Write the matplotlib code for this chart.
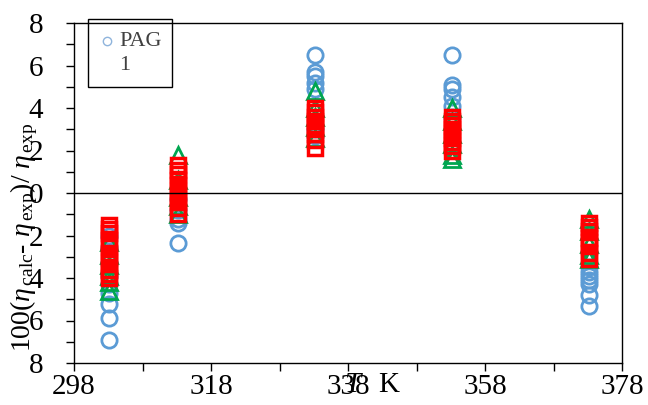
# -*- coding: utf-8 -*-

import numpy as np
import matplotlib
matplotlib.use('Agg')
import matplotlib.pyplot as plt
from matplotlib.patches import Rectangle
from matplotlib.lines import Line2D
from matplotlib.ticker import FixedLocator, MultipleLocator, FuncFormatter

plt.rcParams['font.family'] = ['Liberation Serif', 'DejaVu Serif']
plt.rcParams['mathtext.fontset'] = 'custom'
plt.rcParams['mathtext.rm'] = 'Liberation Serif'
plt.rcParams['mathtext.it'] = 'Liberation Serif:italic'

# temperatures (K)
temps = [303.15, 313.15, 333.15, 353.15, 373.15]
x_ticks = [298, 318, 338, 358, 378]
x_minor = [308, 328, 348, 368]

# deviations 100(eta_calc-eta_exp)/eta_exp for each temperature
blue_dev = [
	[-2.0, -2.6, -3.3, -3.9, -4.3, -4.7, -5.2, -5.9, -6.9],
	[-0.3, -0.8, -1.2, -1.4, -2.35],
	[6.5, 5.7, 5.5, 5.2, 4.9, 3.0, 2.7],
	[6.5, 5.1, 4.9, 4.5, 4.1, 3.6],
	[-3.5, -3.7, -3.9, -4.1, -4.3, -4.8, -5.3],
]
green_dev = [
	[-2.3, -2.9, -3.4, -3.9, -4.2, -4.6],
	[1.8, 0.6, -0.2, -0.6, -1.0],
	[4.8, 4.0, 3.6, 3.1, 2.6],
	[4.0, 3.4, 2.8, 2.3, 1.8, 1.6],
	[-1.2, -1.8, -2.4, -2.9, -3.1],
]
red_dev = [
	[-1.5, -1.7, -1.9, -2.2, -2.5, -2.8, -3.0, -3.3, -3.6, -3.8, -4.0],
	[1.3, 1.1, 0.9, 0.6, 0.4, 0.1, -0.2, -0.4, -0.7, -1.0],
	[4.0, 3.8, 3.6, 3.4, 3.2, 3.0, 2.8, 2.5, 2.1],
	[3.6, 3.4, 3.2, 3.0, 2.8, 2.6, 2.4, 2.2, 2.0],
	[-1.4, -1.6, -1.8, -2.1, -2.3, -2.5, -2.8, -3.1],
]

def flatten(groups):
	xs, ys = [], []
	for t, vals in zip(temps, groups):
		xs += [t]*len(vals)
		ys += vals
	return xs, ys

fig = plt.figure(figsize=(6.48, 4.05), dpi=100)
ax = fig.add_axes([74/648, 42/405, 548/648, 340/405])

bx, by = flatten(blue_dev)
gx, gy = flatten(green_dev)
rx, ry = flatten(red_dev)
ax.plot(bx, by, 'o', ms=11, mfc='none', mec='#5B9BD5', mew=2.0, ls='none')
ax.plot(gx, gy, '^', ms=11, mfc='none', mec='#00A650', mew=2.0, ls='none')
ax.plot(rx, ry, 's', ms=10, mfc='none', mec='#FF0000', mew=2.5, ls='none')

ax.axhline(0, color='black', lw=1.0)

ax.set_xlim(298, 378)
ax.set_ylim(-8, 8)
ax.xaxis.set_major_locator(FixedLocator(x_ticks))
ax.xaxis.set_minor_locator(FixedLocator(x_minor))
ax.yaxis.set_major_locator(MultipleLocator(2))
ax.yaxis.set_minor_locator(MultipleLocator(1))
ax.yaxis.set_major_formatter(FuncFormatter(lambda v, p: '%d' % abs(v)))
ax.tick_params(which='both', direction='out', length=6, width=1.0, color='black')
ax.tick_params(axis='x', labelsize=21, pad=2)
ax.tick_params(axis='y', labelsize=21, pad=16)
for s in ax.spines.values():
	s.set_linewidth(1.0)

# axis labels (overlapping like the original)
fig.text(352/648, 0.05, 'T', fontsize=21, style='italic', ha='center', va='center')
fig.text(389/648, 0.05, 'K', fontsize=21, ha='center', va='center')
fig.text(24/648, (405-237)/405,
	r'100($\mathit{\eta}_{\,\mathrm{calc}}$- $\mathit{\eta}_{\,\mathrm{exp}}$)/ $\mathit{\eta}_{\,\mathrm{exp}}$',
	fontsize=20, rotation=90, ha='center', va='center')

# legend box
fig.patches.append(Rectangle((88/648, (405-87)/405), 84/648, 68/405,
	transform=fig.transFigure, fill=False, ec='black', lw=1.0))
fig.lines.append(Line2D([107/648], [(405-41)/405], transform=fig.transFigure,
	marker='o', ms=6, mfc='none', mec='#8FB4DC', mew=1.0, ls='none'))
fig.text(119/648, (405-41)/405, 'PAG', fontsize=16, color='#404040', ha='left', va='center')
fig.text(125/648, (405-65)/405, '1', fontsize=16, color='#404040', ha='center', va='center')

fig.savefig('out.png', dpi=100)
